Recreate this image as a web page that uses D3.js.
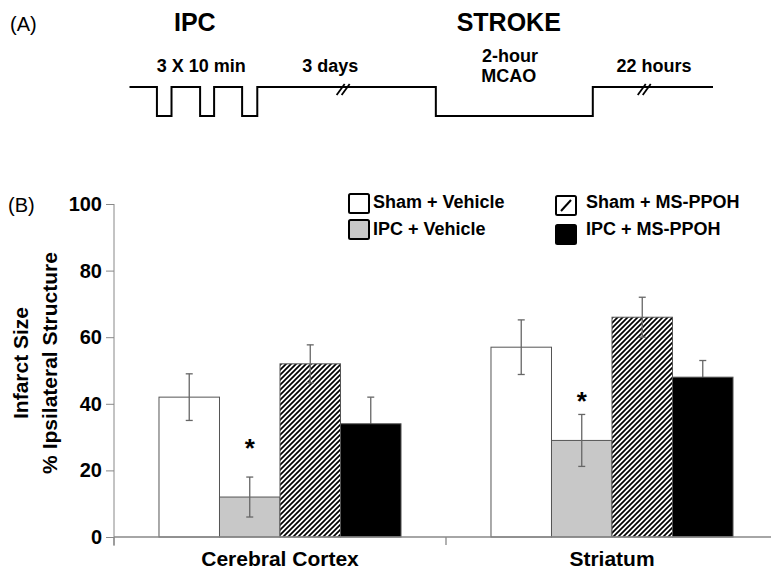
<!DOCTYPE html>
<html><head><meta charset="utf-8">
<script src="https://cdn.jsdelivr.net/npm/d3@7"></script>
<style>
body{margin:0;background:#fff;}
svg{display:block;font-family:"Liberation Sans",Arial,Helvetica,sans-serif;}
</style></head>
<body>
<svg id="chart" width="771" height="574"></svg>
<script>
// ---- Data ----
const categories = ["Cerebral Cortex", "Striatum"];
const seriesNames = ["Sham + Vehicle", "IPC + Vehicle", "Sham + MS-PPOH", "IPC + MS-PPOH"];
const cortexMeans = [42, 12, 52, 34];
const cortexErrors = [7, 6, 5.7, 8];
const striatumMeans = [57, 29, 66, 48];
const striatumErrors = [8.2, 7.8, 6, 5];
const yTicks = [0, 20, 40, 60, 80, 100];
const significance = [
  {category: "Cerebral Cortex", series: "IPC + Vehicle", y: 28},
  {category: "Striatum", series: "IPC + Vehicle", y: 42}
];
// schematic timeline (panel A), arbitrary schematic units 0..100
const timelineSteps = [[0,1],[4.7,0],[7.2,1],[12.1,0],[14.5,1],[19.3,0],[21.9,1],[52.5,0],[79.4,1],[100,1]];
const timelineBreaks = [36.7, 88.3];
const timelineLabels = [
  {x: 12.3, text: "3 X 10 min", line: 0},
  {x: 34.4, text: "3 days", line: 0},
  {x: 65.2, text: "2-hour", line: -1},
  {x: 65.0, text: "MCAO", line: 1},
  {x: 89.9, text: "22 hours", line: 0}
];
const phaseLabels = [{x: 11.2, text: "IPC"}, {x: 65, text: "STROKE"}];

const meansByCat = {"Cerebral Cortex": cortexMeans, "Striatum": striatumMeans};
const errsByCat = {"Cerebral Cortex": cortexErrors, "Striatum": striatumErrors};
const rows = [];
categories.forEach(c => seriesNames.forEach((s, i) => rows.push({cat: c, series: s, v: meansByCat[c][i], e: errsByCat[c][i]})));

const svg = d3.select("#chart");
const defs = svg.append("defs");
const pat = defs.append("pattern").attr("id", "hatch").attr("patternUnits", "userSpaceOnUse")
  .attr("width", 5).attr("height", 5);
pat.append("rect").attr("width", 5).attr("height", 5).attr("fill", "#fff");
pat.append("path").attr("d", "M-1,1 l2,-2 M0,5 l5,-5 M4,6 l2,-2").attr("stroke", "#000").attr("stroke-width", 1.7);

// ---- Panel A ----
const tx = d3.scaleLinear().domain([0, 100]).range([129.5, 713]);
const ty = d3.scaleLinear().domain([0, 1]).range([116, 87]);
svg.append("text").attr("x", 10).attr("y", 31).attr("font-size", 20).attr("fill", "#000").text("(A)");
phaseLabels.forEach(d => svg.append("text").attr("x", tx(d.x)).attr("y", 31).attr("text-anchor", "middle")
  .attr("font-size", 25).attr("font-weight", "bold").attr("fill", "#000").text(d.text));
timelineLabels.forEach(d => svg.append("text").attr("x", tx(d.x)).attr("y", d.line === 0 ? 72 : (d.line < 0 ? 62 : 82))
  .attr("text-anchor", "middle").attr("font-size", 18).attr("font-weight", "bold").attr("fill", "#000").text(d.text));
svg.append("path").datum(timelineSteps)
  .attr("d", d3.line().x(d => tx(d[0])).y(d => ty(d[1])).curve(d3.curveStepAfter))
  .attr("fill", "none").attr("stroke", "#000").attr("stroke-width", 2);
timelineBreaks.forEach(b => {
  const x = tx(b), y = ty(1);
  [-3, 2].forEach(o => svg.append("line")
    .attr("x1", x + o - 4).attr("y1", y + 8).attr("x2", x + o + 4).attr("y2", y - 3)
    .attr("stroke", "#000").attr("stroke-width", 1.8));
});

// ---- Panel B ----
const x0 = d3.scaleBand().domain(categories).range([114, 778]).paddingInner(0.271).paddingOuter(0.1355);
const x1 = d3.scaleBand().domain(seriesNames).range([0, x0.bandwidth()]).padding(0);
const y = d3.scaleLinear().domain([0, 100]).range([537, 204]);
const fills = {"Sham + Vehicle": "#fff", "IPC + Vehicle": "#c8c8c8", "Sham + MS-PPOH": "url(#hatch)", "IPC + MS-PPOH": "#000"};
const errColor = {"Sham + Vehicle": "#666", "IPC + Vehicle": "#666", "Sham + MS-PPOH": "#666", "IPC + MS-PPOH": "#666"};

svg.append("text").attr("x", 8).attr("y", 212).attr("font-size", 20).attr("fill", "#000").text("(B)");

// y axis
const yAxis = svg.append("g").attr("transform", "translate(114,0)")
  .call(d3.axisLeft(y).tickValues(yTicks).tickSize(8).tickPadding(4));
yAxis.select(".domain").attr("stroke", "#888").attr("d", `M0,${y(100)}V${y(0) + 9}`);
yAxis.selectAll(".tick line").attr("stroke", "#888");
yAxis.selectAll(".tick text").attr("font-size", 20).attr("font-weight", "bold").attr("fill", "#000")
  .attr("font-family", "'Liberation Sans',Arial,sans-serif");

// error bars (behind bars' lower halves on dark bar is emulated by drawing before black bars)
const eb = svg.append("g").attr("stroke-width", 1.3);
const bars = svg.append("g");
bars.selectAll("rect").data(rows).join("rect")
  .attr("x", d => x0(d.cat) + x1(d.series))
  .attr("y", d => y(d.v))
  .attr("width", x1.bandwidth())
  .attr("height", d => y(0) - y(d.v))
  .attr("fill", d => fills[d.series])
  .attr("stroke", "#555").attr("stroke-width", 1);
const ebTop = svg.append("g").attr("stroke-width", 1.3);
rows.forEach(d => {
  const cx = x0(d.cat) + x1(d.series) + x1.bandwidth() / 2;
  // dark bars hide the lower half of their error bar
  const g = d.series === "IPC + MS-PPOH" ? eb : ebTop;
  g.append("line").attr("stroke", errColor[d.series]).attr("x1", cx).attr("x2", cx).attr("y1", y(d.v + d.e)).attr("y2", y(d.v - d.e));
  [d.v + d.e, d.v - d.e].forEach(v => g.append("line").attr("stroke", errColor[d.series])
    .attr("x1", cx - 3.5).attr("x2", cx + 3.5).attr("y1", y(v)).attr("y2", y(v)));
});

// x axis
const xAxisG = svg.append("g");
xAxisG.append("line").attr("x1", 114).attr("x2", 778).attr("y1", y(0)).attr("y2", y(0)).attr("stroke", "#888").attr("stroke-width", 1.3);
const bounds = [x0.range()[0], x0("Striatum") - x0.step() * x0.paddingInner() / 2];
bounds.forEach(bx => xAxisG.append("line").attr("x1", bx).attr("x2", bx).attr("y1", y(0)).attr("y2", y(0) + 8).attr("stroke", "#888").attr("stroke-width", 1.3));
categories.forEach(c => svg.append("text").attr("x", x0(c) + x0.bandwidth() / 2).attr("y", 566)
  .attr("text-anchor", "middle").attr("font-size", 21).attr("font-weight", "bold").attr("fill", "#000").text(c));

// significance
significance.forEach(s => svg.append("text")
  .attr("x", x0(s.category) + x1(s.series) + x1.bandwidth() / 2).attr("y", y(s.y) + 13)
  .attr("text-anchor", "middle").attr("font-size", 26).attr("font-weight", "bold").attr("fill", "#000").text("*"));

// y title
const ytg = svg.append("g").attr("font-size", 21).attr("font-weight", "bold").attr("fill", "#000").attr("text-anchor", "middle");
ytg.append("text").attr("transform", "translate(28,363) rotate(-90)").text("Infarct Size");
ytg.append("text").attr("transform", "translate(57,363) rotate(-90)").text("% Ipsilateral Structure");

// legend
const legendItems = [
  {name: "Sham + Vehicle", bx: 348, by: 193, tx: 373, ty: 208},
  {name: "IPC + Vehicle", bx: 348, by: 219, tx: 373, ty: 235},
  {name: "Sham + MS-PPOH", bx: 555, by: 195, tx: 586, ty: 208},
  {name: "IPC + MS-PPOH", bx: 555, by: 224, tx: 586, ty: 235}
];
const lg = svg.append("g");
legendItems.forEach(d => {
  const isHatch = d.name === "Sham + MS-PPOH";
  lg.append("rect").attr("x", d.bx + 1).attr("y", d.by + 1).attr("width", 20).attr("height", 19).attr("rx", 1.5)
    .attr("fill", isHatch ? "#fff" : fills[d.name]).attr("stroke", "#000").attr("stroke-width", 2);
  if (isHatch) lg.append("line").attr("x1", d.bx + 6).attr("y1", d.by + 16).attr("x2", d.bx + 16).attr("y2", d.by + 5)
    .attr("stroke", "#000").attr("stroke-width", 2);
  lg.append("text").attr("x", d.tx).attr("y", d.ty).attr("font-size", 18).attr("font-weight", "bold").attr("fill", "#000").text(d.name);
});
</script>
</body></html>
